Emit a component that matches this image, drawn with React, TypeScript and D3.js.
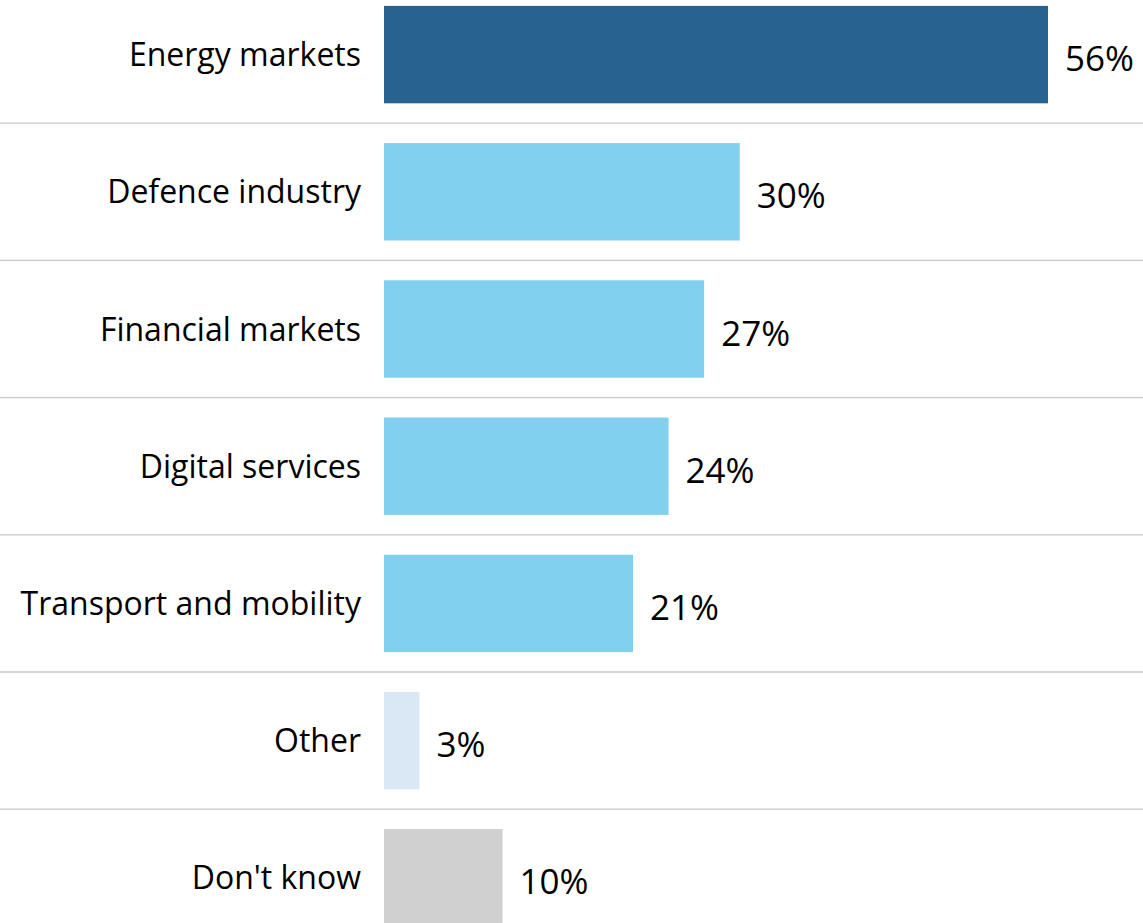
import React from "react";
import * as d3 from "d3";

const categories = [
  "Energy markets",
  "Defence industry",
  "Financial markets",
  "Digital services",
  "Transport and mobility",
  "Other",
  "Don't know",
];
const values = [56, 30, 27, 24, 21, 3, 10];
const colors = ["#286291", "#82D0EF", "#82D0EF", "#82D0EF", "#82D0EF", "#DAE8F6", "#D0D0D0"];

const W = 1143;
const H = 923;

export default function App() {
  const x = d3.scaleLinear().domain([0, 56]).range([384, 1048]);
  const y = d3
    .scaleBand<string>()
    .domain(categories)
    .range([-14, 946.4])
    .paddingInner(0.29)
    .paddingOuter(0.145);
  const step = y.step();
  const bw = y.bandwidth();
  return (
    <svg
      width={W}
      height={H}
      style={{ position: "absolute", left: 0, top: 0, background: "#fff" }}
      fontFamily="'Open Sans', Lato, sans-serif"
    >
      {categories.slice(1).map((c) => {
        const yy = (y(c) as number) - (step - bw) / 2;
        return <line key={"s" + c} x1={0} x2={W} y1={yy} y2={yy} stroke="#C9C9C9" strokeWidth={1.3} />;
      })}
      {categories.map((c, i) => {
        const y0 = y(c) as number;
        const cy = y0 + bw / 2;
        return (
          <g key={c}>
            <rect x={x(0)} y={y0} width={x(values[i]) - x(0)} height={bw} fill={colors[i]} />
            <text x={361} y={cy} dy="0.36em" textAnchor="end" fontSize={32} fill="#000">
              {c}
            </text>
            <text x={x(values[i]) + 17} y={cy + 4} dy="0.36em" fontSize={35} fill="#000">
              {values[i]}%
            </text>
          </g>
        );
      })}
    </svg>
  );
}
